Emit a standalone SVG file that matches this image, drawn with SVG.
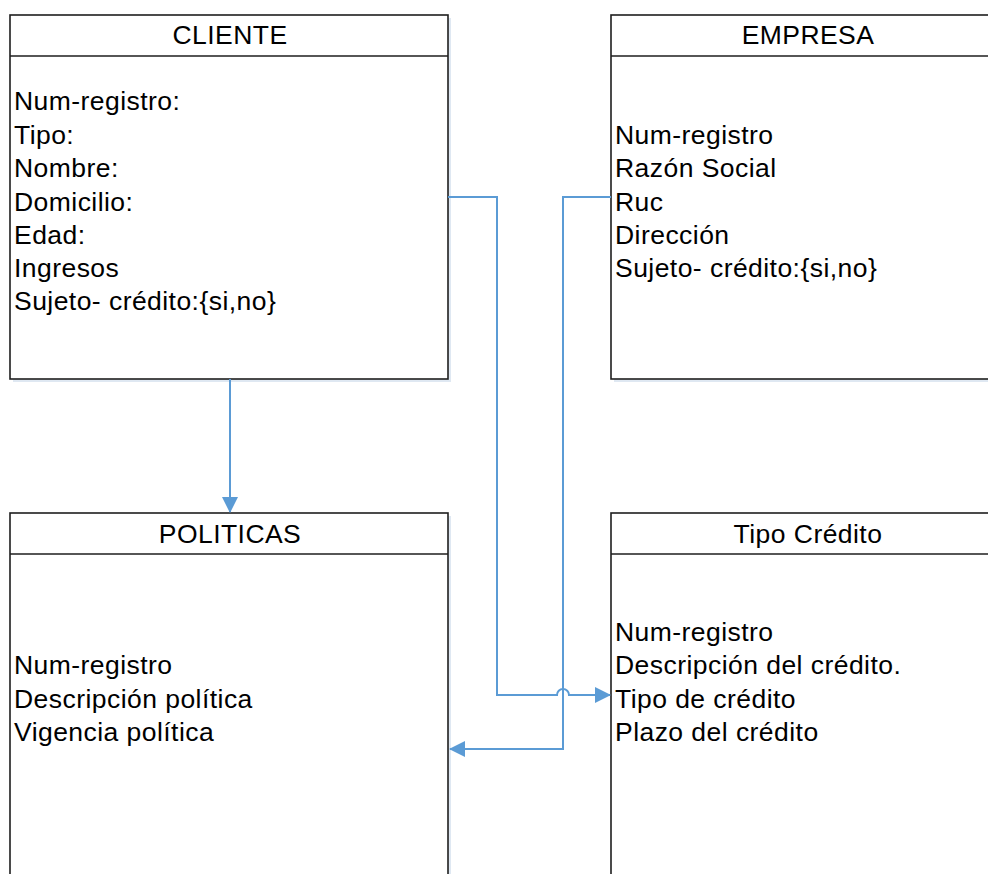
<svg xmlns="http://www.w3.org/2000/svg" width="988" height="874" viewBox="0 0 988 874">
<defs>
<marker id="arr" markerWidth="16" markerHeight="16" viewBox="0 0 16 16" refX="15" refY="8" orient="auto" markerUnits="userSpaceOnUse">
<path d="M0,0 L16,8 L0,16 Z" fill="#5B9BD5"/>
</marker>
</defs>
<style>
.box{fill:#ffffff;stroke:#1e1e1e;stroke-width:1.6}
.shadow{fill:#dfe8f2}
.sep{stroke:#1e1e1e;stroke-width:1.6}
.hdr{font-family:"Liberation Sans",Arial,sans-serif;font-size:26.5px;letter-spacing:0.45px;fill:#000;text-anchor:middle}
.attr{font-family:"Liberation Sans",Arial,sans-serif;font-size:26.5px;letter-spacing:0.45px;fill:#000}
.conn{fill:none;stroke:#5B9BD5;stroke-width:2}
</style>
<rect width="988" height="874" fill="#ffffff"/>
<g id="cliente">
<rect class="shadow" x="13" y="18" width="438" height="364"/>
<rect class="box" x="10" y="15" width="438" height="364"/>
<line class="sep" x1="10" y1="56" x2="448" y2="56"/>
<text class="hdr" x="230" y="44">CLIENTE</text>
<text class="attr" x="14" y="110">Num-registro:</text>
<text class="attr" x="14" y="144">Tipo:</text>
<text class="attr" x="14" y="177">Nombre:</text>
<text class="attr" x="14" y="211">Domicilio:</text>
<text class="attr" x="14" y="244">Edad:</text>
<text class="attr" x="14" y="277">Ingresos</text>
<text class="attr" x="14" y="310">Sujeto- crédito:{si,no}</text>
</g>
<g id="empresa">
<rect class="shadow" x="614" y="18" width="392" height="364"/>
<rect class="box" x="611" y="15" width="392" height="364"/>
<line class="sep" x1="611" y1="56" x2="1003" y2="56"/>
<text class="hdr" x="808" y="44">EMPRESA</text>
<text class="attr" x="615" y="144">Num-registro</text>
<text class="attr" x="615" y="177">Razón Social</text>
<text class="attr" x="615" y="211">Ruc</text>
<text class="attr" x="615" y="244">Dirección</text>
<text class="attr" x="615" y="277">Sujeto- crédito:{si,no}</text>
</g>
<g id="politicas">
<rect class="shadow" x="13" y="516" width="438" height="370"/>
<rect class="box" x="10" y="513" width="438" height="370"/>
<line class="sep" x1="10" y1="554" x2="448" y2="554"/>
<text class="hdr" x="230" y="543">POLITICAS</text>
<text class="attr" x="14" y="674">Num-registro</text>
<text class="attr" x="14" y="708">Descripción política</text>
<text class="attr" x="14" y="741">Vigencia política</text>
</g>
<g id="tipo-credito">
<rect class="shadow" x="614" y="516" width="392" height="370"/>
<rect class="box" x="611" y="513" width="392" height="370"/>
<line class="sep" x1="611" y1="554" x2="1003" y2="554"/>
<text class="hdr" x="808" y="543">Tipo Crédito</text>
<text class="attr" x="615" y="641">Num-registro</text>
<text class="attr" x="615" y="674">Descripción del crédito.</text>
<text class="attr" x="615" y="708">Tipo de crédito</text>
<text class="attr" x="615" y="741">Plazo del crédito</text>
</g>
<g id="connectors">
<path class="conn" d="M230,379 L230,512" marker-end="url(#arr)"/>
<path class="conn" d="M448,197 L497,197 L497,695 L557,695 A6,6 0 0 1 569,695 L610,695" marker-end="url(#arr)"/>
<path class="conn" d="M611,197 L563,197 L563,749 L450,749" marker-end="url(#arr)"/>
</g>
</svg>
